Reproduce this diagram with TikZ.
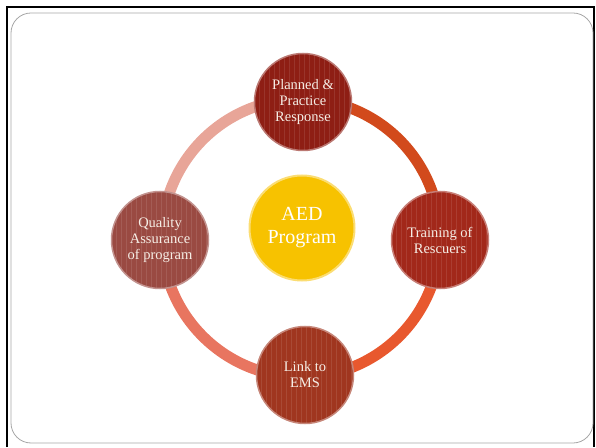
\documentclass[tikz,border=0pt]{standalone}
\usepackage{fontspec}
\setmainfont{Liberation Serif}
\usetikzlibrary{positioning}

\definecolor{ringA}{HTML}{D24A1C}
\definecolor{ringB}{HTML}{E8582E}
\definecolor{ringC}{HTML}{E87560}
\definecolor{ringD}{HTML}{E8A598}
\definecolor{planC}{HTML}{8E1E14}
\definecolor{trainC}{HTML}{A2281A}
\definecolor{linkC}{HTML}{A0361F}
\definecolor{qualC}{HTML}{9A4A42}
\definecolor{aedC}{HTML}{F7C200}
\definecolor{textC}{HTML}{F6EEE6}

\begin{document}
\begin{tikzpicture}[
    x=1pt, y=1pt,
    ringseg/.style   = {line width=11pt},
    phase/.style     = {circle,
                        minimum size=97pt,
                        inner sep=0pt,
                        align=center,
                        text=textC,
                        font=\fontsize{14.5}{16}\selectfont,
                        path picture={
                          \foreach \k in {0,5,...,100}
                            \draw[white, opacity=0.1, line width=0.6pt]
                              (path picture bounding box.south west) ++(\k pt,0) -- ++(0,100pt);
                        }},
    hubstyle/.style  = {circle,
                        minimum size=105pt,
                        inner sep=0pt,
                        align=center,
                        text=white,
                        fill=aedC,
                        draw=aedC!55!white,
                        line width=2pt,
                        font=\fontsize{20}{23}\selectfont}
]
\useasboundingbox (0,0) rectangle (596,447);

% slide frame
\draw[line width=2pt] (7,0) -- (7,440) -- (594,440) -- (594,0);
\draw[gray!70, line width=0.8pt, rounded corners=20pt] (11,4) rectangle (593,434);

% ring behind the four steps
\coordinate (hub) at (301,209);
\draw[ringseg, ringA] (hub) ++(90:139) arc[start angle=90, end angle=0, radius=139];
\draw[ringseg, ringB] (hub) ++(0:139) arc[start angle=0, end angle=-90, radius=139];
\draw[ringseg, ringC] (hub) ++(-90:139) arc[start angle=-90, end angle=-180, radius=139];
\draw[ringseg, ringD] (hub) ++(180:139) arc[start angle=180, end angle=90, radius=139];

\node (plan)  [phase, fill=planC,  draw=planC!60!white,  line width=1.5pt] at (303,345) {Planned \&\\Practice\\Response};
\node (train) [phase, fill=trainC, draw=trainC!60!white, line width=1.5pt] at (440,207) {Training of\\Rescuers};
\node (link)  [phase, fill=linkC,  draw=linkC!60!white,  line width=1.5pt] at (305,72)  {Link to\\EMS};
\node (qual)  [phase, fill=qualC,  draw=qualC!60!white,  line width=1.5pt] at (160,207) {Quality\\Assurance\\of program};

\node (aed) [hubstyle] at (302,219) {AED\\Program};

\end{tikzpicture}
\end{document}
